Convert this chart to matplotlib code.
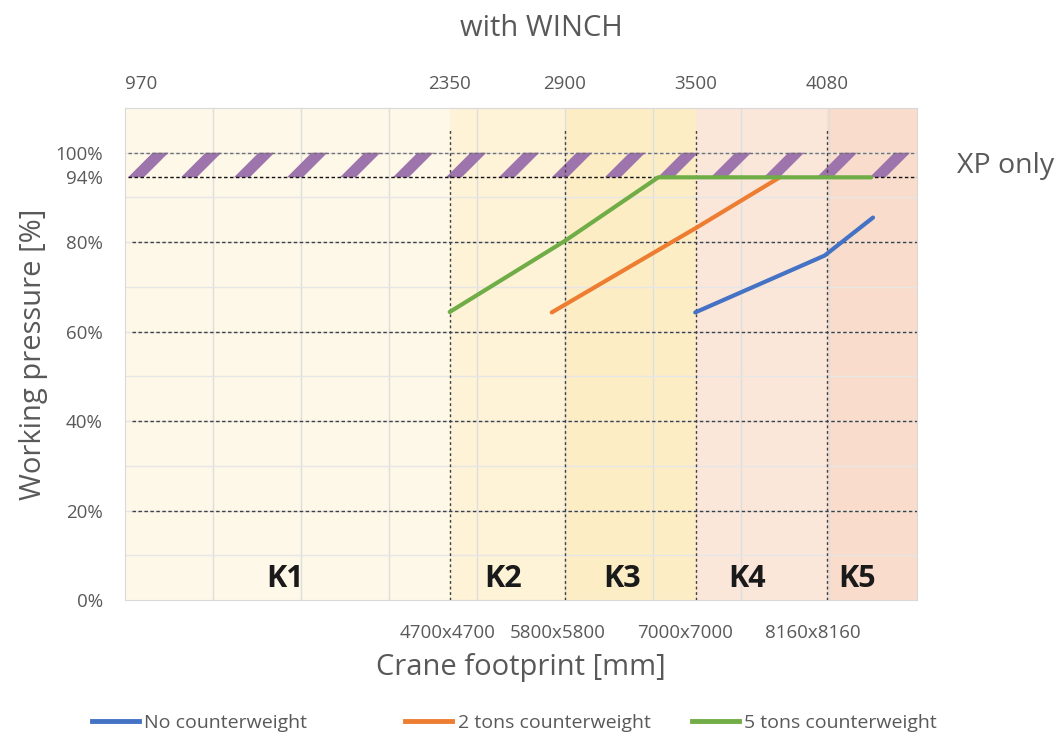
import matplotlib
matplotlib.use('Agg')
import matplotlib.pyplot as plt
from matplotlib.lines import Line2D
from matplotlib.patches import Polygon

# ---------------- data ----------------
zone_labels = ['K1', 'K2', 'K3', 'K4', 'K5']
zone_edges = [0, 3.69, 5.0, 6.49, 7.98, 9.0]
zone_label_x = [1.82, 4.30, 5.65, 7.07, 8.32]
zone_colors = ['#FEF8E8', '#FEF2D7', '#FDEDC5', '#FBE6DA', '#F9DCCB']
top_tick_pos = [0, 3.69, 5.0, 6.49, 7.98]
top_tick_labels = ['970', '2350', '2900', '3500', '4080']
footprint_label_pos = [3.66, 4.92, 6.37, 7.82]
footprint_labels = ['4700x4700', '5800x5800', '7000x7000', '8160x8160']
y_ticks = [0, 20, 40, 60, 80, 94.5, 100]
y_tick_labels = ['0%', '20%', '40%', '60%', '80%', '94%', '100%']

no_cw_x = [6.48, 7.95, 8.5]
no_cw_y = [64.3, 77.0, 85.5]
two_t_x = [4.85, 6.49, 7.44]
two_t_y = [64.3, 83.2, 94.5]
five_t_x = [3.69, 5.0, 6.06, 8.48]
five_t_y = [64.4, 80.3, 94.5, 94.5]

xp_low, xp_high = 94.5, 100
series_names = ['No counterweight', '2 tons counterweight', '5 tons counterweight']
series_colors = ['#4472C4', '#ED7D31', '#70AD47']

FONT = 'Open Sans'
GRAY = '#595959'
plt.rcParams['font.family'] = [FONT, 'DejaVu Sans']

fig = plt.figure(figsize=(10.64, 7.36), dpi=100)
ax = fig.add_axes([125/1064, 1-600/736, (917-125)/1064, (600-108)/736])
ax.set_xlim(0, 9)
ax.set_ylim(0, 110)

# zones
for i in range(len(zone_labels)):
    ax.axvspan(zone_edges[i], zone_edges[i+1], color=zone_colors[i], lw=0, zorder=0)
    ax.text(zone_label_x[i], 4.6, zone_labels[i],
            ha='center', va='center', fontsize=22, fontweight='bold', color='#1A1A1A', zorder=6)

# light grid
for gx in range(1, 9):
    ax.axvline(gx, color='#DEDEDE', lw=1, zorder=1)
for gy in range(10, 110, 10):
    ax.axhline(gy, color='#E6E6E6', lw=1, zorder=1)

# XP-only stripes
period, width, slant = 0.602, 0.18, 0.28
for k in range(15):
    x0 = 0.034 + k * period
    ax.add_patch(Polygon([(x0, xp_low), (x0 + width, xp_low), (x0 + width + slant, xp_high),
                          (x0 + slant, xp_high)], closed=True, facecolor='#9D74AC',
                         edgecolor='none', zorder=2))

# dashed reference lines
for yv in [20, 40, 60, 80]:
    ax.hlines(yv, 0.08, 9.0, colors='#404040', lw=1, linestyles=(0, (2.5, 1.8)), zorder=3)
ax.hlines(xp_low, 0.03, 9.0, colors='#111111', lw=1, linestyles=(0, (2.5, 1.8)), zorder=3)
ax.hlines(xp_high, 0.03, 9.0, colors='#707070', lw=1, linestyles=(0, (2.5, 1.8)), zorder=3)
for xv in zone_edges[1:5]:
    ax.vlines(xv, 0, 105.5, colors='#404040', lw=1, linestyles=(0, (2, 2)), zorder=3)

# series
ax.plot(no_cw_x, no_cw_y, color=series_colors[0], lw=3, solid_capstyle='round', zorder=5)
ax.plot(two_t_x, two_t_y, color=series_colors[1], lw=3, solid_capstyle='round', zorder=5)
ax.plot(five_t_x, five_t_y, color=series_colors[2], lw=3, solid_capstyle='round', zorder=5)

# axes styling
for s in ax.spines.values():
    s.set_color('#D9D9D9')
ax.set_yticks(y_ticks)
ax.set_yticklabels(y_tick_labels)
ax.set_xticks(footprint_label_pos)
ax.set_xticklabels(footprint_labels)
ax.tick_params(axis='y', length=0, pad=16, labelsize=13.5, labelcolor=GRAY)
ax.tick_params(axis='x', length=0, pad=17, labelsize=13.5, labelcolor=GRAY)

top = ax.twiny()
top.set_xlim(ax.get_xlim())
top.set_xticks(top_tick_pos)
top.set_xticklabels(top_tick_labels)
top.tick_params(axis='x', length=0, pad=10.5, labelsize=13.5, labelcolor=GRAY)
top.get_xticklabels()[0].set_ha('left')
for s in top.spines.values():
    s.set_visible(False)

ax.set_ylabel('Working pressure [%]', fontsize=21, color=GRAY, labelpad=5)
ax.set_xlabel('Crane footprint [mm]', fontsize=21, color=GRAY, labelpad=8)
fig.text(541/1064, 1-28/736, 'with WINCH', ha='center', va='center', fontsize=21, color=GRAY)
fig.text(957/1064, 1-166/736, 'XP only', ha='left', va='center', fontsize=20.5, color=GRAY)

# legend
leg_x = [92, 405, 692]
for name, col, lx in zip(series_names, series_colors, leg_x):
    h = Line2D([], [], color=col, lw=3.5)
    fig.legend(handles=[h], labels=[name], loc='center left',
               bbox_to_anchor=(lx/1064, 1-723/736), frameon=False, borderpad=0,
               borderaxespad=0, handlelength=2.4, handletextpad=0.3,
               prop={'family': FONT, 'size': 14}, labelcolor=GRAY)

fig.savefig('out.png', dpi=100)
